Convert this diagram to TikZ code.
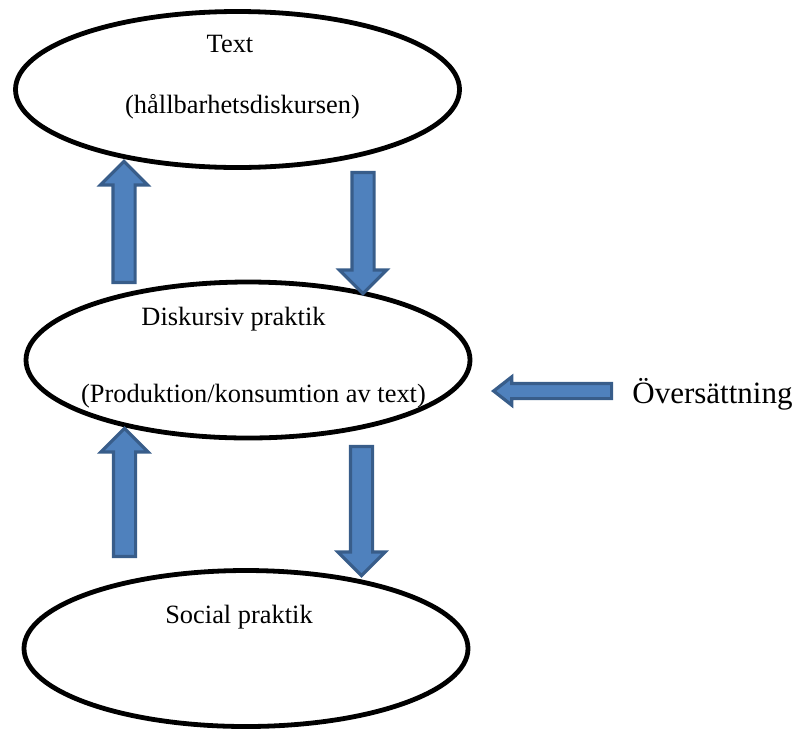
\documentclass[tikz,border=0pt]{standalone}
\usepackage{fontspec}
\setmainfont{Liberation Serif}
\usetikzlibrary{shapes.geometric,shapes.arrows}

\definecolor{arrowfill}{HTML}{4F81BD}
\definecolor{arrowline}{HTML}{385D8A}

\tikzstyle{level}=[shape=ellipse,draw=black,line width=2.4pt,minimum width=222pt,minimum height=78pt,inner sep=0pt]
\tikzstyle{leveltext}=[anchor=base,inner sep=0pt,font=\fontsize{13.2}{16}\selectfont]
\tikzstyle{flow}=[single arrow,draw=arrowline,fill=arrowfill,line width=1.6pt,
  single arrow head extend=6.25pt,single arrow head indent=0pt,single arrow tip angle=90,
  text height=0pt,text depth=0pt,inner xsep=0pt,inner ysep=4.75pt]

\begin{document}
\begin{tikzpicture}[x=0.5pt,y=-0.5pt]
\useasboundingbox (0,0) rectangle (801,729);
% levels
\node[level] (txt) at (237.5,89.5) {};
\node[level] (disk) at (248,360) {};
\node[level] (soc) at (246,648.5) {};
\node[leveltext] (txt1) at (230,52) {Text};
\node[leveltext] (txt2) at (242.5,113) {(hållbarhetsdiskursen)};
\node[leveltext] (disk1) at (233.5,325) {Diskursiv praktik};
\node[leveltext] (disk2) at (253.5,402) {(Produktion/konsumtion av text)};
\node[leveltext] (soc1) at (239,623) {Social praktik};
% arrows
\node[flow,rotate=90,minimum height=60.5pt] (up1) at (124,227.5) {};
\node[flow,rotate=-90,minimum height=60.5pt] (down1) at (363,227.5) {};
\node[flow,rotate=90,minimum height=64pt] (up2) at (124.5,498) {};
\node[flow,rotate=-90,minimum height=64.5pt] (down2) at (361.5,505.5) {};
\node[flow,rotate=180,minimum height=59pt,inner ysep=3pt,
  single arrow head extend=3.25pt,single arrow tip angle=76] (trans) at (557.5,391) {};
\node[anchor=base,inner sep=0pt,font=\fontsize{15.5}{18}\selectfont] (translabel) at (712.5,403) {Översättning};
\end{tikzpicture}
\end{document}
